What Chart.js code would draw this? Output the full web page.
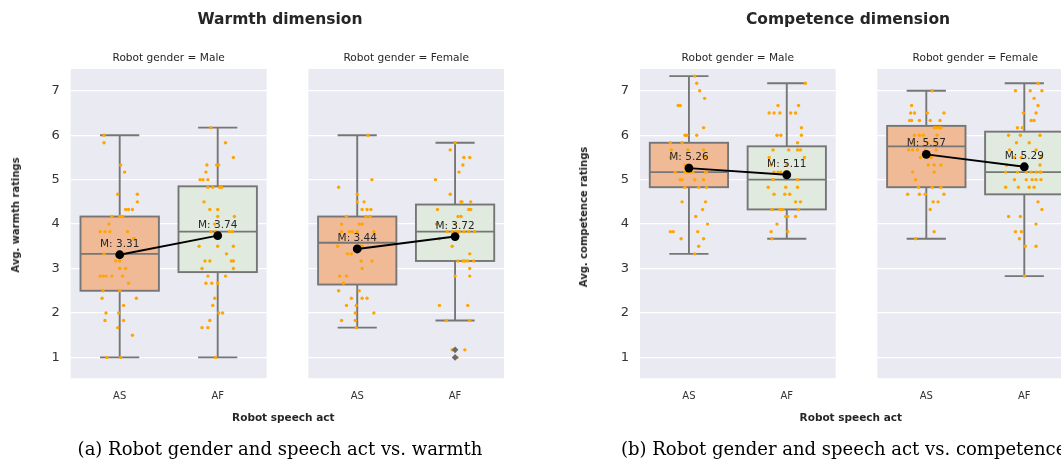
<!DOCTYPE html>
<html><head><meta charset="utf-8">
<script src="https://cdn.jsdelivr.net/npm/chart.js@4.4.1/dist/chart.umd.min.js"></script>
<style>
html,body{margin:0;padding:0;background:#fff;overflow:hidden;width:1061px;height:460px;}
#wrap{position:relative;width:1061px;height:460px;overflow:hidden;}
canvas{position:absolute;left:0;top:0;}
.t{position:absolute;white-space:nowrap;transform:translate(-50%,-50%);line-height:1;color:#262626;font-family:"DejaVu Sans",sans-serif;}
.yl{transform:translate(-50%,-50%) rotate(-90deg);}
.cap{position:absolute;white-space:nowrap;line-height:1;color:#000;font-family:"DejaVu Serif",serif;font-size:18px;}
</style></head><body>
<div id="wrap">
<canvas id="c1" width="1080" height="460"></canvas>
<canvas id="c2" width="1080" height="460"></canvas>
<canvas id="c3" width="1080" height="460"></canvas>
<canvas id="c4" width="1080" height="460"></canvas>

<div class="t" style="left:280px;top:20px;font-weight:bold;font-size:15.5px;">Warmth dimension</div>
<div class="t" style="left:848px;top:20px;font-weight:bold;font-size:15.5px;">Competence dimension</div>

<div class="t" style="left:168.7px;top:57px;font-size:10.6px;">Robot gender = Male</div>
<div class="t" style="left:406.2px;top:57px;font-size:10.6px;">Robot gender = Female</div>
<div class="t" style="left:737.8px;top:57px;font-size:10.6px;">Robot gender = Male</div>
<div class="t" style="left:975.3px;top:57px;font-size:10.6px;">Robot gender = Female</div>

<div class="t yl" style="left:15.5px;top:215px;font-weight:bold;font-size:10px;">Avg. warmth ratings</div>
<div class="t yl" style="left:584px;top:217px;font-weight:bold;font-size:10px;">Avg. competence ratings</div>

<div class="t" style="left:283.3px;top:417px;font-weight:bold;font-size:10.5px;">Robot speech act</div>
<div class="t" style="left:850.8px;top:417px;font-weight:bold;font-size:10.5px;">Robot speech act</div>

<div class="cap" style="left:280px;top:449px;transform:translate(-50%,-50%);">(a) Robot gender and speech act vs. warmth</div>
<div class="cap" style="left:621px;top:449px;transform:translate(0,-50%);">(b) Robot gender and speech act vs. competence</div>
</div>

<script>
// ---------------- data ----------------
const categories = ['AS', 'AF'];
const yTickValues = [1, 2, 3, 4, 5, 6, 7];
const yRange = [0.53, 7.49];

// box stats: [lower whisker, Q1, median, Q3, upper whisker]
const warmthMaleBoxAS = [1.00, 2.50, 3.33, 4.17, 6.00];
const warmthMaleBoxAF = [1.00, 2.92, 3.83, 4.85, 6.17];
const warmthFemaleBoxAS = [1.67, 2.64, 3.58, 4.17, 6.00];
const warmthFemaleBoxAF = [1.83, 3.17, 3.83, 4.44, 5.83];
const competenceMaleBoxAS = [3.33, 4.83, 5.17, 5.83, 7.33];
const competenceMaleBoxAF = [3.67, 4.33, 5.00, 5.75, 7.17];
const competenceFemaleBoxAS = [3.67, 4.83, 5.75, 6.21, 7.00];
const competenceFemaleBoxAF = [2.83, 4.67, 5.17, 6.08, 7.17];

// means [AS, AF]
const warmthMaleMeans = [3.31, 3.74];
const warmthFemaleMeans = [3.44, 3.72];
const competenceMaleMeans = [5.26, 5.11];
const competenceFemaleMeans = [5.57, 5.29];

// outliers (AF group)
const warmthFemaleOutliersAF = [1.17, 1.00];

// individual ratings: [value, horizontal jitter]
const warmthMalePointsAS = [[6.00,-0.16],[5.83,-0.16],[5.33,0.01],[5.17,0.05],[4.67,-0.02],[4.67,0.18],[4.50,0.18],[4.33,0.06],[4.33,0.09],[4.33,0.13],[4.17,-0.08],[4.17,0.00],[4.17,0.03],[4.00,-0.11],[3.83,-0.20],[3.83,-0.15],[3.83,-0.10],[3.83,0.08],[3.67,0.14],[3.67,0.15],[3.33,-0.16],[3.33,0.00],[3.33,0.04],[3.17,0.00],[3.17,-0.04],[3.00,0.00],[3.00,0.06],[2.83,-0.20],[2.83,-0.17],[2.83,-0.14],[2.83,-0.08],[2.83,0.03],[2.67,0.09],[2.50,-0.17],[2.50,0.00],[2.33,-0.18],[2.33,0.17],[2.17,0.04],[2.00,-0.14],[2.00,-0.01],[1.83,-0.15],[1.83,0.04],[1.67,-0.02],[1.50,0.13],[1.00,-0.13],[1.00,0.01]];
const warmthMalePointsAF = [[6.17,-0.07],[5.83,0.08],[5.50,0.16],[5.33,-0.11],[5.33,-0.01],[5.33,0.01],[5.17,-0.12],[5.00,-0.18],[5.00,-0.15],[5.00,-0.10],[4.83,-0.10],[4.83,-0.05],[4.83,0.02],[4.83,0.04],[4.50,-0.14],[4.33,-0.08],[4.33,0.00],[4.17,0.00],[4.17,0.17],[4.00,-0.03],[3.83,-0.07],[3.83,-0.02],[3.83,0.12],[3.83,0.15],[3.50,-0.19],[3.50,0.00],[3.50,0.16],[3.33,0.09],[3.17,-0.13],[3.17,-0.08],[3.17,0.14],[3.17,0.16],[3.00,-0.16],[3.00,0.16],[2.83,-0.10],[2.83,0.08],[2.67,-0.12],[2.67,-0.06],[2.67,0.00],[2.33,-0.03],[2.17,-0.05],[2.00,0.01],[2.00,0.05],[1.83,-0.08],[1.67,-0.16],[1.67,-0.10],[1.00,-0.02]];
const warmthFemalePointsAS = [[6.00,0.11],[5.00,0.15],[4.83,-0.19],[4.67,0.00],[4.50,0.00],[4.50,0.07],[4.33,0.05],[4.33,0.10],[4.33,0.14],[4.17,-0.11],[4.17,0.09],[4.17,0.13],[4.00,-0.16],[4.00,0.02],[4.00,0.05],[3.83,-0.16],[3.83,-0.08],[3.83,-0.05],[3.83,0.00],[3.83,0.17],[3.50,-0.20],[3.50,0.03],[3.50,0.05],[3.33,-0.10],[3.33,-0.06],[3.17,0.04],[3.17,0.15],[3.00,0.05],[2.83,-0.18],[2.83,-0.11],[2.67,-0.14],[2.50,-0.19],[2.50,0.02],[2.33,-0.06],[2.33,0.05],[2.33,0.10],[2.17,-0.11],[2.17,-0.01],[2.00,-0.02],[2.00,0.17],[1.83,-0.16],[1.83,-0.02],[1.67,-0.01]];
const warmthFemalePointsAF = [[5.83,0.00],[5.67,-0.05],[5.50,0.09],[5.50,0.15],[5.33,0.08],[5.17,0.04],[5.00,-0.20],[4.67,-0.05],[4.50,0.06],[4.50,0.07],[4.50,0.16],[4.33,-0.18],[4.33,0.14],[4.33,0.16],[4.17,0.03],[4.17,0.06],[4.00,-0.19],[4.00,0.00],[3.83,-0.08],[3.83,-0.03],[3.83,0.01],[3.83,0.04],[3.83,0.09],[3.83,0.14],[3.83,0.20],[3.67,-0.16],[3.50,-0.03],[3.33,0.15],[3.17,0.03],[3.17,0.08],[3.17,0.10],[3.17,0.13],[3.17,0.19],[3.00,0.15],[2.83,0.00],[2.83,0.15],[2.17,-0.16],[2.17,0.13],[1.83,-0.09],[1.83,0.15],[1.17,-0.03],[1.17,0.10],[1.00,0.02]];
const competenceMalePointsAS = [[7.33,0.06],[7.17,0.08],[7.00,0.11],[6.83,0.16],[6.67,-0.11],[6.67,-0.09],[6.17,0.15],[6.00,-0.04],[6.00,-0.02],[6.00,0.08],[5.83,-0.19],[5.83,-0.07],[5.67,-0.18],[5.67,-0.01],[5.67,0.15],[5.50,-0.19],[5.50,0.17],[5.33,-0.04],[5.33,-0.01],[5.33,0.01],[5.17,-0.14],[5.17,-0.04],[5.17,-0.02],[5.17,0.01],[5.17,0.04],[5.17,0.17],[5.17,0.18],[5.00,-0.09],[5.00,-0.07],[5.00,0.06],[5.00,0.15],[4.83,-0.04],[4.83,0.10],[4.83,0.18],[4.50,-0.07],[4.50,0.17],[4.33,0.14],[4.17,0.07],[4.00,0.19],[3.83,-0.19],[3.83,-0.16],[3.83,0.09],[3.67,-0.08],[3.67,0.15],[3.50,0.10],[3.33,0.06]];
const competenceMalePointsAF = [[7.17,0.19],[6.67,-0.09],[6.67,0.12],[6.50,-0.18],[6.50,-0.13],[6.50,-0.07],[6.50,0.04],[6.50,0.09],[6.17,0.15],[6.00,-0.10],[6.00,-0.06],[6.00,0.15],[5.83,0.11],[5.67,-0.14],[5.67,0.02],[5.67,0.11],[5.67,0.14],[5.50,-0.18],[5.50,0.18],[5.33,-0.16],[5.33,0.00],[5.17,-0.13],[5.17,-0.09],[5.17,-0.06],[5.17,-0.02],[5.17,0.01],[5.00,-0.14],[5.00,0.11],[4.83,-0.19],[4.83,-0.01],[4.83,0.11],[4.67,-0.13],[4.67,-0.02],[4.67,0.03],[4.50,0.09],[4.50,0.14],[4.33,-0.15],[4.33,-0.07],[4.33,-0.04],[4.33,0.12],[4.17,-0.01],[4.17,0.01],[4.17,0.09],[4.00,-0.10],[3.83,-0.16],[3.83,0.01],[3.67,-0.15]];
const competenceFemalePointsAS = [[7.00,0.06],[6.67,-0.15],[6.50,-0.16],[6.50,-0.12],[6.50,0.01],[6.50,0.18],[6.33,-0.17],[6.33,-0.15],[6.33,-0.07],[6.33,0.04],[6.33,0.14],[6.17,0.08],[6.17,0.10],[6.17,0.13],[6.17,0.15],[6.00,-0.12],[6.00,-0.07],[6.00,-0.03],[6.00,0.11],[5.83,-0.13],[5.83,0.01],[5.83,0.10],[5.67,-0.18],[5.67,-0.14],[5.67,-0.09],[5.67,-0.01],[5.67,0.10],[5.50,-0.06],[5.50,0.05],[5.33,0.02],[5.33,0.08],[5.33,0.15],[5.17,-0.14],[5.17,0.08],[5.00,-0.11],[4.83,-0.08],[4.83,0.06],[4.83,0.15],[4.67,-0.19],[4.67,-0.07],[4.67,-0.01],[4.67,0.18],[4.50,0.07],[4.50,0.12],[4.33,0.04],[3.83,0.08],[3.67,-0.11]];
const competenceFemalePointsAF = [[7.17,0.14],[7.00,-0.09],[7.00,0.06],[7.00,0.18],[6.83,0.10],[6.67,0.14],[6.50,-0.01],[6.50,0.12],[6.33,0.07],[6.33,0.10],[6.17,-0.07],[6.17,-0.02],[6.00,-0.16],[6.00,-0.04],[6.00,0.16],[5.83,-0.08],[5.83,0.05],[5.67,-0.15],[5.67,0.12],[5.50,-0.10],[5.50,-0.03],[5.50,0.17],[5.33,-0.18],[5.33,0.16],[5.17,-0.19],[5.17,-0.07],[5.17,0.02],[5.17,0.07],[5.17,0.12],[5.17,0.16],[5.17,0.17],[5.00,-0.10],[5.00,0.02],[5.00,0.08],[5.00,0.12],[5.00,0.17],[4.83,-0.19],[4.83,-0.06],[4.83,0.05],[4.83,0.10],[4.50,0.14],[4.33,0.18],[4.17,-0.16],[4.17,-0.04],[4.00,0.12],[3.83,-0.09],[3.83,-0.03],[3.67,-0.05],[3.50,0.01],[3.50,0.12],[2.83,0.00]];

// ---------------- drawing ----------------
const CANVAS_W = 1080, CANVAS_H = 460;
const Y_AXIS_W = 45, X_AXIS_H = 30;
const BOX_FILLS = ['rgb(240,186,151)', 'rgb(224,234,223)'];
const EDGE = '#767676';

function makeBoxPlugin(stats, means) {
  return {
    id: 'boxes',
    beforeDraw(chart) {
      const {ctx, chartArea: a} = chart;
      ctx.save();
      ctx.fillStyle = '#EAEAF2';
      ctx.fillRect(a.left, a.top, a.right - a.left, a.bottom - a.top);
      ctx.restore();
    },
    beforeDatasetsDraw(chart) {
      const {ctx, scales: {x, y}} = chart;
      ctx.save();
      ctx.strokeStyle = EDGE;
      ctx.lineWidth = 1.9;
      stats.forEach((b, i) => {
        const xc = x.getPixelForValue(i);
        const xl = x.getPixelForValue(i - 0.4), xr = x.getPixelForValue(i + 0.4);
        const cl = x.getPixelForValue(i - 0.2), cr = x.getPixelForValue(i + 0.2);
        const [lo, q1, md, q3, hi] = b.map(v => y.getPixelForValue(v));
        const seg = (x1, y1, x2, y2) => { ctx.beginPath(); ctx.moveTo(x1, y1); ctx.lineTo(x2, y2); ctx.stroke(); };
        seg(xc, q3, xc, hi); seg(xc, q1, xc, lo);
        seg(cl, hi, cr, hi); seg(cl, lo, cr, lo);
        ctx.fillStyle = BOX_FILLS[i];
        ctx.fillRect(xl, q3, xr - xl, q1 - q3);
        ctx.strokeRect(xl, q3, xr - xl, q1 - q3);
        seg(xl, md, xr, md);
      });
      ctx.restore();
    },
    afterDatasetsDraw(chart) {
      const {ctx, scales: {x, y}} = chart;
      ctx.save();
      ctx.font = '10.5px "DejaVu Sans"';
      ctx.fillStyle = '#262626';
      ctx.textAlign = 'center';
      ctx.textBaseline = 'middle';
      means.forEach((m, i) => {
        ctx.fillText('M: ' + m.toFixed(2), x.getPixelForValue(i), y.getPixelForValue(m) - 10.7);
      });
      ctx.restore();
    }
  };
}

function makePanel(id, rect, boxAS, boxAF, means, ptsAS, ptsAF, outliersAF, showY) {
  const pts = ptsAS.map(p => ({x: 0 + p[1], y: p[0]}))
    .concat(ptsAF.map(p => ({x: 1 + p[1], y: p[0]})));
  new Chart(document.getElementById(id), {
    type: 'scatter',
    data: {
      datasets: [
        {data: means.map((m, i) => ({x: i, y: m})), showLine: true, borderColor: '#000', borderWidth: 1.9,
         pointRadius: 4.4, pointBackgroundColor: '#000', pointBorderWidth: 0, order: 0},
        {data: outliersAF.map(v => ({x: 1, y: v})), pointStyle: 'rectRot', pointRadius: 3.3,
         backgroundColor: '#6a6a6a', borderWidth: 0, order: 1},
        {data: pts, pointRadius: 1.7, backgroundColor: '#FFA500', borderWidth: 0, order: 2}
      ]
    },
    options: {
      responsive: false, animation: false, events: [],
      layout: {padding: {left: rect.L - Y_AXIS_W, right: CANVAS_W - rect.R, top: rect.T, bottom: CANVAS_H - rect.B - X_AXIS_H}},
      plugins: {legend: {display: false}, tooltip: {enabled: false}},
      scales: {
        x: {
          type: 'linear', min: -0.5, max: 1.5,
          afterBuildTicks: s => { s.ticks = categories.map((c, i) => ({value: i})); },
          afterFit: s => { s.height = X_AXIS_H; },
          ticks: {callback: v => categories[v], font: {family: 'DejaVu Sans', size: 10}, color: '#333', padding: 12, maxRotation: 0, autoSkip: false},
          grid: {display: false, drawTicks: false},
          border: {display: false}
        },
        y: {
          min: yRange[0], max: yRange[1],
          afterBuildTicks: s => { s.ticks = yTickValues.map(v => ({value: v})); },
          afterFit: s => { s.width = Y_AXIS_W; },
          ticks: {display: showY, font: {family: 'DejaVu Sans', size: 13}, color: '#333', padding: 11},
          grid: {color: '#ffffff', lineWidth: 1.2, drawTicks: false},
          border: {display: false}
        }
      }
    },
    plugins: [makeBoxPlugin([boxAS, boxAF], means)]
  });
}

const TOP = 69, BOTTOM = 378.3;
makePanel('c1', {L: 70.7, R: 266.7, T: TOP, B: BOTTOM}, warmthMaleBoxAS, warmthMaleBoxAF, warmthMaleMeans, warmthMalePointsAS, warmthMalePointsAF, [], true);
makePanel('c2', {L: 308.3, R: 504.0, T: TOP, B: BOTTOM}, warmthFemaleBoxAS, warmthFemaleBoxAF, warmthFemaleMeans, warmthFemalePointsAS, warmthFemalePointsAF, warmthFemaleOutliersAF, false);
makePanel('c3', {L: 640.0, R: 835.7, T: TOP, B: BOTTOM}, competenceMaleBoxAS, competenceMaleBoxAF, competenceMaleMeans, competenceMalePointsAS, competenceMalePointsAF, [], true);
makePanel('c4', {L: 877.3, R: 1073.3, T: TOP, B: BOTTOM}, competenceFemaleBoxAS, competenceFemaleBoxAF, competenceFemaleMeans, competenceFemalePointsAS, competenceFemalePointsAF, [], false);
</script>
</body></html>
